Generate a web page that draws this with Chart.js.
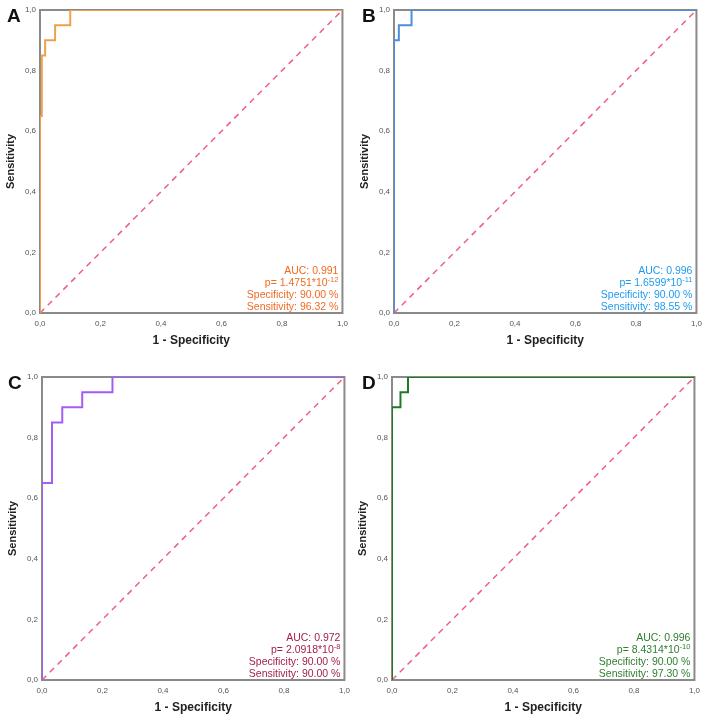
<!DOCTYPE html>
<html>
<head>
<meta charset="utf-8">
<script src="https://cdn.jsdelivr.net/npm/chart.js@4/dist/chart.umd.min.js"></script>
<style>
  body { margin: 0; background: #fff; font-family: Arial, "Liberation Sans", sans-serif; }
  #wrap { position: relative; width: 708px; height: 720px; }
  .panel { position: absolute; width: 354px; height: 350px; }
  .tag { position: absolute; font-weight: bold; font-size: 19px; color: #111; }
</style>
</head>
<body>
<div id="wrap">
  <div class="panel" style="left:0;top:0"><canvas id="c-a"></canvas></div>
  <div class="panel" style="left:354px;top:0"><canvas id="c-b"></canvas></div>
  <div class="panel" style="left:2px;top:367px"><canvas id="c-c"></canvas></div>
  <div class="panel" style="left:352px;top:367px"><canvas id="c-d"></canvas></div>
  <div class="tag" style="left:7px;top:5px">A</div>
  <div class="tag" style="left:362px;top:5px">B</div>
  <div class="tag" style="left:8px;top:372px">C</div>
  <div class="tag" style="left:362px;top:372px">D</div>
</div>
<script>
// ROC steps (1 - specificity, sensitivity)
const aFpr = [0, 0, 0.006, 0.006, 0.017, 0.017, 0.05, 0.05, 0.10, 0.10, 1];
const aTpr = [0, 0.65, 0.65, 0.85, 0.85, 0.90, 0.90, 0.95, 0.95, 1, 1];
const bFpr = [0, 0, 0.016, 0.016, 0.058, 0.058, 1];
const bTpr = [0, 0.90, 0.90, 0.95, 0.95, 1, 1];
const cFpr = [0, 0, 0.033, 0.033, 0.067, 0.067, 0.133, 0.133, 0.233, 0.233, 1];
const cTpr = [0, 0.65, 0.65, 0.85, 0.85, 0.90, 0.90, 0.95, 0.95, 1, 1];
const dFpr = [0, 0, 0.028, 0.028, 0.053, 0.053, 1];
const dTpr = [0, 0.90, 0.90, 0.95, 0.95, 1, 1];

const refLine = [0, 1];
const tickValues = [0, 0.2, 0.4, 0.6, 0.8, 1];

const aucs = ['0.991', '0.996', '0.972', '0.996'];
const pMantissa = ['1.4751', '1.6599', '2.0918', '8.4314'];
const pExponent = ['-12', '-11', '-8', '-10'];
const specificity = ['90.00', '90.00', '90.00', '90.00'];
const sensitivity = ['96.32', '98.55', '90.00', '97.30'];

const FONT = 'Arial, "Liberation Sans", sans-serif';

// gray frame around the plot area, drawn under the curve
const frame = {
  id: 'frame',
  beforeDatasetsDraw(chart) {
    const { ctx, chartArea: a } = chart;
    ctx.save();
    ctx.strokeStyle = '#8a8a8a';
    ctx.lineWidth = 2;
    ctx.strokeRect(a.left, a.top, a.right - a.left, a.bottom - a.top);
    ctx.restore();
  },
};

// AUC / p / spec / sens block, bottom right
const stats = {
  id: 'stats',
  afterDatasetsDraw(chart, args, opts) {
    const { ctx, chartArea: a } = chart;
    const x = a.right - 4;
    ctx.save();
    ctx.fillStyle = opts.color;
    ctx.textAlign = 'right';
    ctx.textBaseline = 'alphabetic';
    ctx.font = '10.5px ' + FONT;
    ctx.fillText('AUC: ' + opts.auc, x, a.bottom - 39);
    ctx.font = '7.5px ' + FONT;
    const supW = ctx.measureText(opts.exp).width;
    ctx.fillText(opts.exp, x, a.bottom - 31);
    ctx.font = '10.5px ' + FONT;
    ctx.fillText('p= ' + opts.mant + '*10', x - supW, a.bottom - 27);
    ctx.fillText('Specificity: ' + opts.spec + ' %', x, a.bottom - 15);
    ctx.fillText('Sensitivity: ' + opts.sens + ' %', x, a.bottom - 3);
    ctx.restore();
  },
};

function toPoints(xs, ys) {
  return xs.map((x, i) => ({ x, y: ys[i] }));
}

function makePanel(id, fpr, tpr, lineColor, textColor, i) {
  const tickFont = { family: FONT, size: 8 };
  new Chart(document.getElementById(id), {
    type: 'scatter',
    data: {
      datasets: [
        { data: toPoints(fpr, tpr), showLine: true, borderColor: lineColor, borderWidth: 2, pointRadius: 0, tension: 0 },
        { data: toPoints(refLine, refLine), showLine: true, borderColor: '#ee5f86', borderWidth: 1.5, borderDash: [6, 5], pointRadius: 0 },
      ],
    },
    options: {
      responsive: true, maintainAspectRatio: false, animation: false,
      layout: { padding: { top: 10, right: 11, left: 0, bottom: 0 } },
      plugins: {
        legend: { display: false }, tooltip: { enabled: false },
        stats: { color: textColor, auc: aucs[i], mant: pMantissa[i], exp: pExponent[i], spec: specificity[i], sens: sensitivity[i] },
      },
      scales: {
        x: {
          type: 'linear', min: 0, max: 1,
          afterFit: (s) => { s.height = 37; },
          afterBuildTicks: (s) => { s.ticks = tickValues.map(v => ({ value: v })); },
          grid: { display: false, drawTicks: false }, border: { display: false },
          ticks: { padding: 6, color: '#555', font: tickFont, callback: v => v.toFixed(1).replace('.', ',') },
          title: { display: true, text: '1 - Specificity', color: '#222', font: { family: FONT, size: 12, weight: 'bold' }, padding: { top: 0, bottom: 2 } },
        },
        y: {
          type: 'linear', min: 0, max: 1,
          afterFit: (s) => { s.width = 40; },
          afterBuildTicks: (s) => { s.ticks = tickValues.map(v => ({ value: v })); },
          grid: { display: false, drawTicks: false }, border: { display: false },
          ticks: { padding: 4, color: '#555', font: tickFont, callback: v => v.toFixed(1).replace('.', ',') },
          title: { display: true, text: 'Sensitivity', color: '#222', font: { family: FONT, size: 11, weight: 'bold' }, padding: { top: 4, bottom: 0 } },
        },
      },
    },
    plugins: [frame, stats],
  });
}

makePanel('c-a', aFpr, aTpr, '#f0a04b', '#f26a22', 0);
makePanel('c-b', bFpr, bTpr, '#4a8ee0', '#1e9bf0', 1);
makePanel('c-c', cFpr, cTpr, '#a45cf5', '#a11f50', 2);
makePanel('c-d', dFpr, dTpr, '#1f7a22', '#2f7f2f', 3);
</script>
</body>
</html>
